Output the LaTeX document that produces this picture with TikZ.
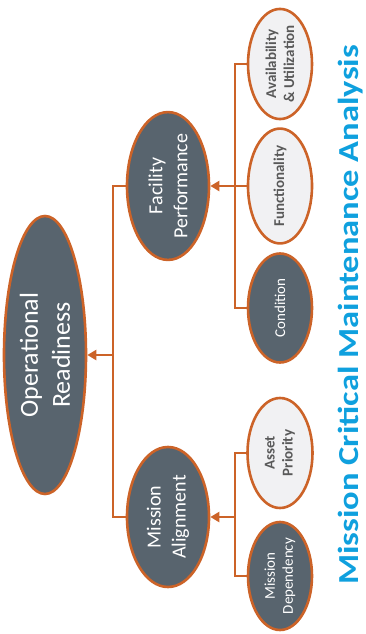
\documentclass[tikz,border=0pt]{standalone}
\usepackage{fontspec}
\setmainfont{Carlito}
\usetikzlibrary{shapes.geometric,arrows.meta}
\definecolor{rust}{HTML}{CC6328}
\definecolor{slate}{HTML}{58646E}
\definecolor{pale}{HTML}{F1F1F3}
\definecolor{inkgray}{HTML}{595959}
\definecolor{titleblue}{HTML}{0FA0DE}
\tikzset{
  bubble/.style={ellipse, draw=rust, line width=2.6pt, inner sep=0pt,
    rotate=90, align=center},
  darkbubble/.style={bubble, fill=slate, text=white},
  lightbubble/.style={bubble, fill=pale, text=inkgray, font=\bfseries\fontsize{15}{18}\selectfont},
  link/.style={draw=rust, line width=2.2pt},
  tip/.style={link, -{Triangle[length=9pt,width=10pt]}}
}
\begin{document}
\begin{tikzpicture}[x=1pt,y=-1pt]
\useasboundingbox (0,0) rectangle (366,634);

% root
\node[darkbubble, minimum width=278pt, minimum height=82pt,
      font=\fontsize{26}{32}\selectfont] (or) at (45,355) {Operational\\Readiness};

% second level
\node[darkbubble, minimum width=138pt, minimum height=82pt,
      font=\fontsize{20}{25}\selectfont] (fp) at (168,186) {Facility\\Performance};
\node[darkbubble, minimum width=140pt, minimum height=82pt,
      font=\fontsize{20}{25}\selectfont] (ma) at (168,517) {Mission\\Alignment};

% leaves
\node[lightbubble, minimum width=108pt, minimum height=64pt] (au) at (280,64) {Availability\\\& Utilization};
\node[lightbubble, minimum width=108pt, minimum height=64pt] (fn) at (280,186) {Functionality};
\node[darkbubble, minimum width=109pt, minimum height=64pt,
      font=\fontsize{15}{18}\selectfont] (cd) at (280,308) {Condition};
\node[lightbubble, minimum width=110pt, minimum height=65pt] (ap) at (280,453) {Asset\\Priority};
\node[darkbubble, minimum width=108pt, minimum height=64pt,
      font=\fontsize{15}{18}\selectfont] (md) at (280,576) {Mission\\Dependency};

% junction points
\coordinate (j1) at (113,355);
\coordinate (j2) at (235,186);
\coordinate (j3) at (235,517);

% connectors
\draw[link] (fp.north) -| (j1) |- (ma.north);
\draw[tip] (j1) -- (or.south);

\draw[link] (au.north) -| (j2) |- (cd.north);
\draw[tip] (fn.north) -- (fp.south);

\draw[link] (ap.north) -| (j3) |- (md.north);
\draw[tip] (j3) -- (ma.south);

% title, widened along its baseline
\node[rotate=90, text=titleblue, font=\bfseries\fontsize{29}{34}\selectfont,
      inner sep=0pt] (title) at (351,315) {\scalebox{1.19}[1]{Mission Critical Maintenance Analysis}};
\end{tikzpicture}
\end{document}
